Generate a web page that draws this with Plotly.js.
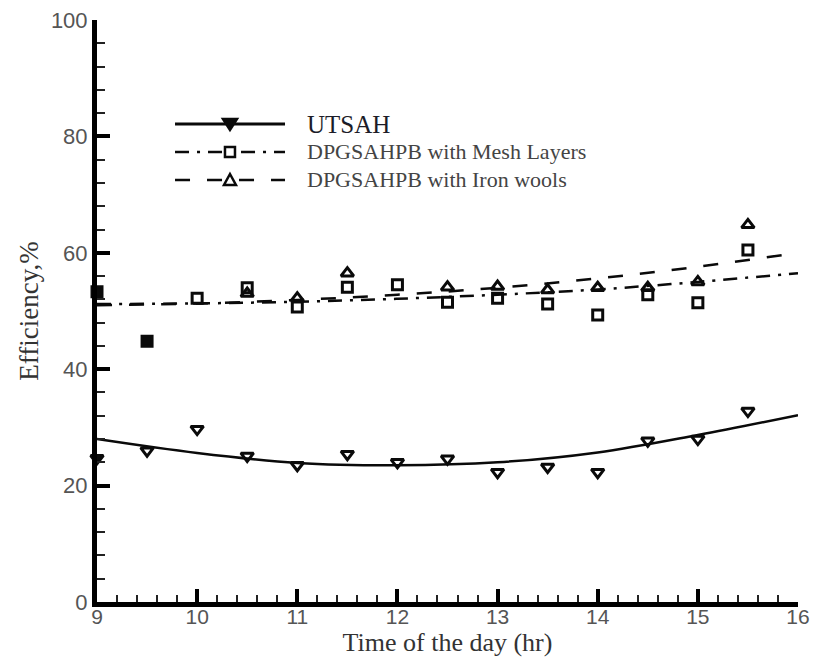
<!DOCTYPE html>
<html>
<head>
<meta charset="utf-8">
<script src="https://cdn.plot.ly/plotly-3.0.1.min.js"></script>
<style>
  html, body { margin: 0; padding: 0; background: #fff; }
  #chart { width: 818px; height: 661px; }
</style>
</head>
<body>
<div id="chart"></div>
<script>
// Measured collector efficiency over the day (half-hourly readings)
const hours = [9, 9.5, 10, 10.5, 11, 11.5, 12, 12.5, 13, 13.5, 14, 14.5, 15, 15.5];
const utsah = [24.7, 26.0, 29.7, 25.1, 23.5, 25.4, 24.0, 24.6, 22.3, 23.2, 22.3, 27.7, 28.0, 32.8];
const meshLayers = [53.3, 44.8, 52.2, 54.0, 50.7, 54.1, 54.5, 51.5, 52.2, 51.2, 49.3, 52.8, 51.4, 60.5];
const ironWools = [null, null, null, 53.0, 52.2, 56.5, null, 54.1, 54.2, 53.6, 54.0, 54.0, 55.0, 64.8];

// Trend curves through each series
const fitHours = [9, 10, 11, 12, 13, 14, 15, 16];
const utsahFit = [28.0, 25.6, 23.9, 23.5, 24.0, 25.7, 28.7, 32.1];
const meshFit = [51.2, 51.3, 51.6, 52.1, 52.8, 53.7, 55.0, 56.5];
const ironFit = [51.0, 51.3, 51.9, 52.8, 54.0, 55.6, 57.6, 60.0];

const seriesNames = ['UTSAH', 'DPGSAHPB with Mesh Layers', 'DPGSAHPB with Iron wools'];
const xTicks = [9, 10, 11, 12, 13, 14, 15, 16];
const yTicks = [0, 20, 40, 60, 80, 100];

const DASHDOT = '14px,8px,3px,8px';
const DASHED = '15px,17px';
const INK = '#0a0a0a';

const traces = [
  { x: fitHours, y: utsahFit, mode: 'lines', line: { color: INK, width: 2.5, shape: 'spline' }, hoverinfo: 'skip' },
  { x: fitHours, y: meshFit, mode: 'lines', line: { color: INK, width: 2.5, shape: 'spline', dash: DASHDOT }, hoverinfo: 'skip' },
  { x: fitHours, y: ironFit, mode: 'lines', line: { color: INK, width: 2.5, shape: 'spline', dash: DASHED }, hoverinfo: 'skip' },
  {
    x: hours, y: utsah, mode: 'markers', name: seriesNames[0], cliponaxis: false,
    marker: {
      symbol: hours.map((h, i) => i === 0 ? 'triangle-down' : 'triangle-down-open'),
      size: 11, color: INK, line: { color: INK, width: 3 }
    }
  },
  {
    x: hours, y: meshLayers, mode: 'markers', name: seriesNames[1], cliponaxis: false,
    marker: {
      symbol: hours.map((h, i) => i < 2 ? 'square' : 'square-open'),
      size: 10, color: INK, line: { color: INK, width: 3 }
    }
  },
  {
    x: hours, y: ironWools, mode: 'markers', name: seriesNames[2], cliponaxis: false,
    marker: { symbol: 'triangle-up-open', size: 11, color: INK, line: { color: INK, width: 3 } }
  }
];

// Hand-drawn legend: sample lines, glyphs and labels placed inside the plot
const legendRows = [
  { y: 0.8213, dash: 'solid', glyph: 'M-7,5L7,5L0,-6Z' },
  { y: 0.7732, dash: DASHDOT, glyph: 'M-5,-5L5,-5L5,5L-5,5Z' },
  { y: 0.7251, dash: DASHED, glyph: 'M-6,-5L6,-5L0,6Z' }
];
const legX0 = 0.1113, legX1 = 0.2682, legXm = 0.1897, legTextX = 0.2967;
const shapes = [];
const annotations = [];
legendRows.forEach((row, i) => {
  shapes.push({
    type: 'line', xref: 'paper', yref: 'paper', x0: legX0, x1: legX1, y0: row.y, y1: row.y,
    line: { color: INK, width: i === 0 ? 3 : 2.5, dash: row.dash }
  });
  shapes.push({
    type: 'path', xref: 'paper', yref: 'paper', xsizemode: 'pixel', ysizemode: 'pixel',
    xanchor: legXm, yanchor: row.y, path: row.glyph,
    fillcolor: i === 0 ? INK : '#fff', line: { color: INK, width: 2.5 }
  });
  annotations.push({
    xref: 'paper', yref: 'paper', x: legTextX, y: row.y, xanchor: 'left', yanchor: 'middle',
    text: seriesNames[i], showarrow: false,
    font: i === 0
      ? { family: 'Liberation Serif, Times New Roman, serif', size: 25, color: '#1c1c28' }
      : { family: 'Liberation Serif, Times New Roman, serif', size: 22, color: '#444' }
  });
});

const layout = {
  width: 818, height: 661,
  margin: { l: 97, r: 20, t: 20, b: 59 },
  paper_bgcolor: '#fff', plot_bgcolor: '#fff',
  showlegend: false,
  shapes: shapes,
  annotations: annotations,
  xaxis: {
    range: [9, 16], tickvals: xTicks, ticktext: xTicks.map(String),
    showgrid: false, zeroline: false, showline: true, linecolor: '#000', linewidth: 5,
    ticks: 'inside', ticklen: 13, tickwidth: 4, tickcolor: '#000',
    ticklabelstandoff: -8,
    minor: { dtick: 0.2, ticks: 'inside', ticklen: 7, tickwidth: 2, tickcolor: '#222', showgrid: false },
    tickfont: { family: 'Liberation Sans, Arial, sans-serif', size: 21, color: '#555' },
    title: { text: 'Time of the day (hr)', standoff: 0,
      font: { family: 'Liberation Serif, Times New Roman, serif', size: 26, color: '#333' } }
  },
  yaxis: {
    range: [0, 100], tickvals: yTicks, ticktext: yTicks.map(String),
    showgrid: false, zeroline: false, showline: true, linecolor: '#000', linewidth: 5,
    ticks: 'inside', ticklen: 13, tickwidth: 4, tickcolor: '#000',
    minor: { dtick: 4, ticks: 'inside', ticklen: 8, tickwidth: 2, tickcolor: '#222', showgrid: false },
    tickfont: { family: 'Liberation Sans, Arial, sans-serif', size: 22, color: '#555' },
    title: { text: 'Efficiency,%', standoff: 6,
      font: { family: 'Liberation Serif, Times New Roman, serif', size: 27, color: '#333' } }
  }
};

Plotly.newPlot('chart', traces, layout, { staticPlot: true, displayModeBar: false });
</script>
</body>
</html>
